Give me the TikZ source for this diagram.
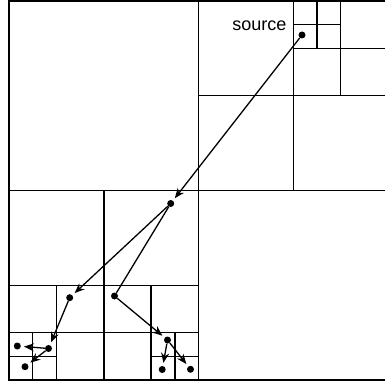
\documentclass[tikz,border=0pt]{standalone}
\usepackage{fontspec}
\setmainfont{Liberation Sans}
\usetikzlibrary{arrows.meta}
\begin{document}
\begin{tikzpicture}[x=1pt,y=-1pt,
  grid/.style={line width=1.5pt,line cap=rect},
  dot/.style={circle,fill=black,inner sep=0pt,minimum size=7pt},
  link/.style={line width=1.3pt,-{Stealth[length=10pt,width=8pt]},shorten >=3pt},
  plain/.style={line width=1.3pt}]
\useasboundingbox (0,0) rectangle (385,385);
\fill[white] (0,0) rectangle (385,385);
% grid
\draw[grid] (9,1) rectangle (388,380);
\draw[grid] (198.5,1) -- (198.5,380);
\draw[grid] (9,190.5) -- (388,190.5);
\draw[grid] (293.25,1) -- (293.25,190.5);
\draw[grid] (198.5,95.75) -- (388,95.75);
\draw[grid] (340.6,1) -- (340.6,95.75);
\draw[grid] (293.25,48.4) -- (388,48.4);
\draw[grid] (316.9,1) -- (316.9,48.4);
\draw[grid] (293.25,24.7) -- (340.6,24.7);
\draw[grid] (103.75,190.5) -- (103.75,380);
\draw[grid] (9,285.25) -- (198.5,285.25);
\draw[grid] (56.4,285.25) -- (56.4,380);
\draw[grid] (9,332.6) -- (198.5,332.6);
\draw[grid] (32.7,332.6) -- (32.7,380);
\draw[grid] (9,356.3) -- (56.4,356.3);
\draw[grid] (151.1,285.25) -- (151.1,380);
\draw[grid] (174.8,332.6) -- (174.8,380);
\draw[grid] (151.1,356.3) -- (198.5,356.3);
% label
\node[anchor=base east,inner sep=0pt,font=\fontsize{18pt}{20pt}\selectfont] (lbl) at (286.5,31) {source};
% dots
\node[dot] (A) at (302,35) {};
\node[dot] (B) at (170.7,203.5) {};
\node[dot] (C) at (69.7,297.7) {};
\node[dot] (D) at (114.5,296) {};
\node[dot] (E) at (167.5,340) {};
\node[dot] (F) at (162.2,369.5) {};
\node[dot] (G) at (190.5,369.3) {};
\node[dot] (H) at (48.5,348.5) {};
\node[dot] (I) at (17.3,346) {};
\node[dot] (J) at (25,366.7) {};
% links
\draw[link] (A) -- (B);
\draw[link] (B) -- (C);
\draw[plain] (B) -- (D);
\draw[link] (D) -- (E);
\draw[link] (E) -- (F);
\draw[link] (E) -- (G);
\draw[link] (C) -- (H);
\draw[link] (H) -- (I);
\draw[link] (H) -- (J);
\end{tikzpicture}
\end{document}
